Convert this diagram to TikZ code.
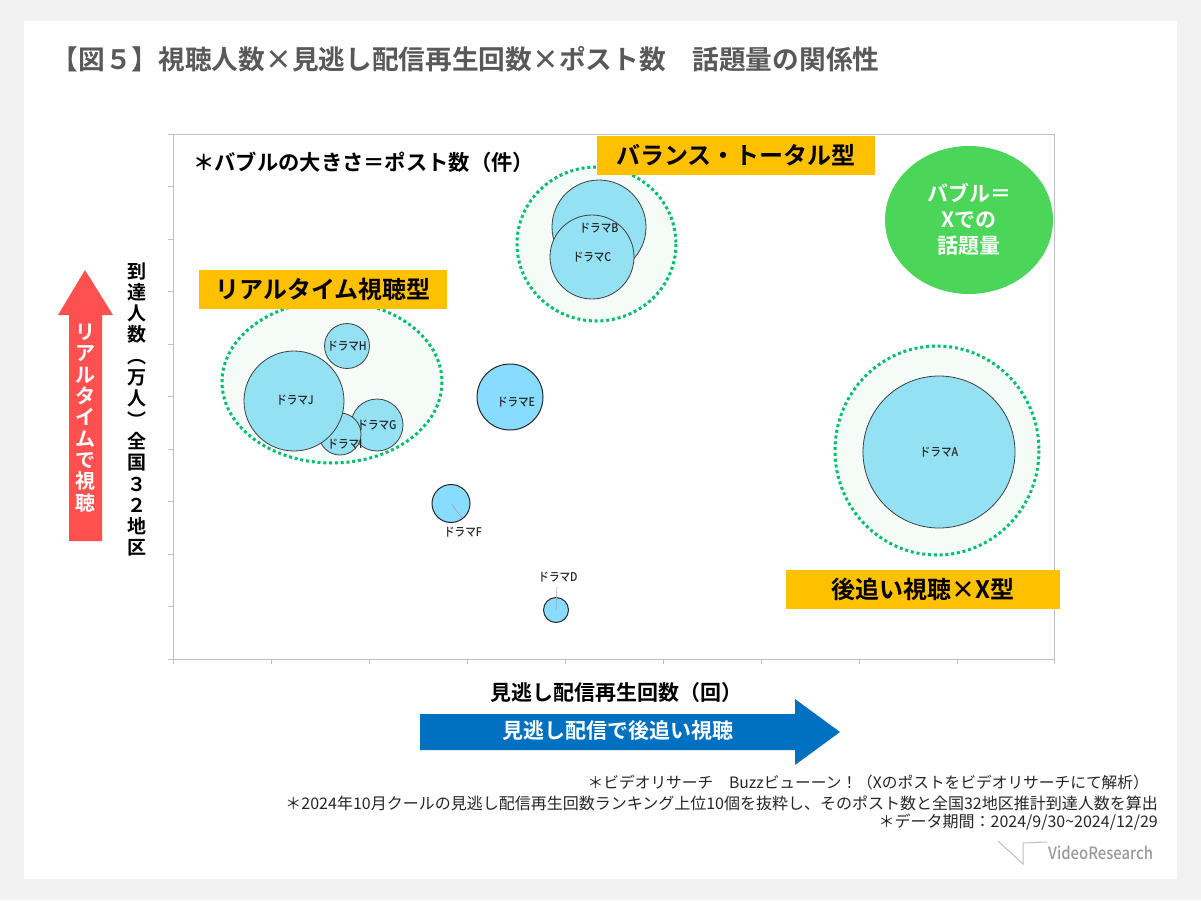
\documentclass[tikz,border=0pt]{standalone}
\usepackage{fontspec}
\usetikzlibrary{shapes.geometric}
\setmainfont{Noto Sans CJK JP}
\newfontfamily\cjkb{Noto Sans CJK JP Bold}
\newfontfamily\cjkm{Noto Sans CJK JP Medium}
\newfontfamily\cjkn[FakeStretch=0.88]{Noto Sans CJK JP Medium}
\newfontfamily\cjkf{Noto Sans CJK JP}
\definecolor{pagebg}{HTML}{F2F2F2}
\definecolor{axisc}{HTML}{BFBFBF}
\definecolor{bub}{HTML}{94E1F3}
\definecolor{bubb}{HTML}{88DCFF}
\definecolor{ringc}{HTML}{00BF70}
\definecolor{ringf}{HTML}{F5FBF6}
\definecolor{tagc}{HTML}{FFC000}
\definecolor{redc}{HTML}{FF5050}
\definecolor{bluec}{HTML}{0070C0}
\definecolor{greenb}{HTML}{4BD65A}
\definecolor{titlec}{HTML}{595959}
\tikzset{
 ring/.style={draw=ringc,fill=ringf,line width=3pt,dash pattern=on 3pt off 2.8pt},
 bubble/.style={circle,draw=black!75,fill=bub,line width=.8pt,inner sep=0pt},
 bubbleb/.style={bubble,fill=bubb,draw=black!85,line width=1pt},
 bublabel/.style={font=\fontsize{12}{12}\selectfont\cjkn,text=black!85,inner sep=0pt},
 tag/.style={fill=tagc,inner sep=0pt,font=\fontsize{24}{24}\selectfont\cjkb,text=black},
 vtext/.style={align=center,inner sep=0pt},
 foot/.style={anchor=east,inner sep=0pt,font=\fontsize{16}{16}\selectfont\cjkf,text=black!85},
 leaderl/.style={draw=black!35,line width=.6pt},
 tick/.style={draw=axisc,line width=1pt}
}
\begin{document}
\begin{tikzpicture}[x=1pt,y=-1pt]
\useasboundingbox (0,0) rectangle (1201,900);
\fill[pagebg] (0,0) rectangle (1201,900);
\fill[white] (24,21) rectangle (1177,879);
\node[anchor=west,inner sep=0pt,text=titlec,font=\fontsize{26.7}{26.7}\selectfont\cjkb] (title) at (51.5,59) {【図５】視聴人数×見逃し配信再生回数×ポスト数　話題量の関係性};
% plot frame
\draw[tick] (173,134) rectangle (1054,659);
\foreach \y in {134,186.5,239,291.5,344,396.5,449,501.5,554,606.5,659} \draw[tick] (168,\y) -- (173,\y);
\foreach \x in {173,271,369,467,565,663,761,859,957,1054} \draw[tick] (\x,659) -- (\x,664);
% rings
\draw[ring] (332,382) ellipse [x radius=110,y radius=81];
\draw[ring] (596.5,244) ellipse [x radius=79.5,y radius=77];
\draw[ring] (937,450.5) ellipse [x radius=102,y radius=104.5];
% bubbles
\node[bubble,minimum size=152pt] (a) at (939,452) {};
\node[bubble,minimum size=94pt] (b) at (599,227) {};
\node[bubble,minimum size=84pt] (c) at (592,257) {};
\node[bubbleb,minimum size=66pt] (e) at (510,397) {};
\node[bubbleb,minimum size=38pt] (f) at (451,503.5) {};
\node[bubbleb,minimum size=25pt] (d) at (556,610) {};
\node[bubble,minimum size=45pt] (h) at (347,346) {};
\node[bubble,minimum size=52pt] (g) at (377,425) {};
\node[bubble,minimum size=42pt] (i) at (340,434) {};
\node[bubble,minimum size=100pt] (j) at (294,401) {};
% bubble labels
\node[bublabel] (la) at (939,452) {ドラマA};
\node[bublabel] (lb) at (599,228) {ドラマB};
\node[bublabel] (lc) at (592,257) {ドラマC};
\node[bublabel] (le) at (516,402) {ドラマE};
\node[bublabel] (lf) at (463,532.5) {ドラマF};
\node[bublabel] (ld) at (558,577) {ドラマD};
\node[bublabel] (lh) at (347,346) {ドラマH};
\node[bublabel] (lg) at (377,425) {ドラマG};
\node[bublabel] (li) at (345,444) {ドラマI};
\node[bublabel] (lj) at (295,400) {ドラマJ};
\coordinate (fl) at (462,518);
\coordinate (dl) at (557,587);
\draw[leaderl] (f.center) -- (fl);
\draw[leaderl] (d.center) -- (dl);
% tags
\node[tag,minimum width=248pt,minimum height=39pt] (t1) at (323,289.5) {リアルタイム視聴型};
\node[tag,minimum width=278pt,minimum height=39pt] (t2) at (736,155.5) {バランス・トータル型};
\node[tag,minimum width=274pt,minimum height=39pt] (t3) at (923,589.5) {後追い視聴×X型};
% notes
\node[anchor=west,inner sep=0pt,font=\fontsize{21.3}{21.3}\selectfont\cjkb,text=black] (note) at (193,162) {＊バブルの大きさ＝ポスト数（件）};
\node[ellipse,fill=greenb,minimum width=168pt,minimum height=148pt,inner sep=0pt] (gb) at (969,220) {};
\node[align=center,inner sep=0pt,text=white,font=\fontsize{21}{26}\selectfont\cjkb] (gbt) at (969,219) {バブル＝\\Xでの\\話題量};
% red arrow
\fill[redc] (69,541) -- (69,315) -- (58,315) -- (85,270) -- (113,315) -- (102,315) -- (102,541) -- cycle;
\node[vtext,text=white,font=\fontsize{20}{21.3}\selectfont\cjkb] (rt) at (85,418) {リ\\ア\\ル\\タ\\イ\\ム\\で\\視\\聴};
\node[vtext,text=black,font=\fontsize{19}{21.3}\selectfont\cjkb] (yt) at (137,409.5) {到\\達\\人\\数\\︵\\万\\人\\︶\\全\\国\\３\\２\\地\\区};
% blue arrow
\fill[bluec] (420,714) -- (795,714) -- (795,699) -- (840,732) -- (795,765) -- (795,750) -- (420,750) -- cycle;
\node[inner sep=0pt,text=white,font=\fontsize{21}{21}\selectfont\cjkb] (bt) at (617.5,731) {見逃し配信で後追い視聴};
\node[inner sep=0pt,text=black,font=\fontsize{21}{21}\selectfont\cjkb] (xt) at (616,693) {見逃し配信再生回数（回）};
% footnotes
\node[foot,font=\fontsize{15.7}{15.7}\selectfont\cjkf] (f1) at (1149,783) {＊ビデオリサーチ　Buzzビューーン！（Xのポストをビデオリサーチにて解析）};
\node[foot] (f2) at (1158,803) {＊2024年10月クールの見逃し配信再生回数ランキング上位10個を抜粋し、そのポスト数と全国32地区推計到達人数を算出};
\node[foot] (f3) at (1158,822) {＊データ期間：2024/9/30\string~2024/12/29};
% logo
\draw[axisc,line width=1pt] (998,841) -- (1023,864) -- (1023,843) -- (1047,842);
\node[anchor=west,inner sep=0pt,text=black!40,font=\fontsize{16.9}{16.9}\selectfont\cjkn] (logo) at (1048,853) {VideoResearch};
\end{tikzpicture}
\end{document}
